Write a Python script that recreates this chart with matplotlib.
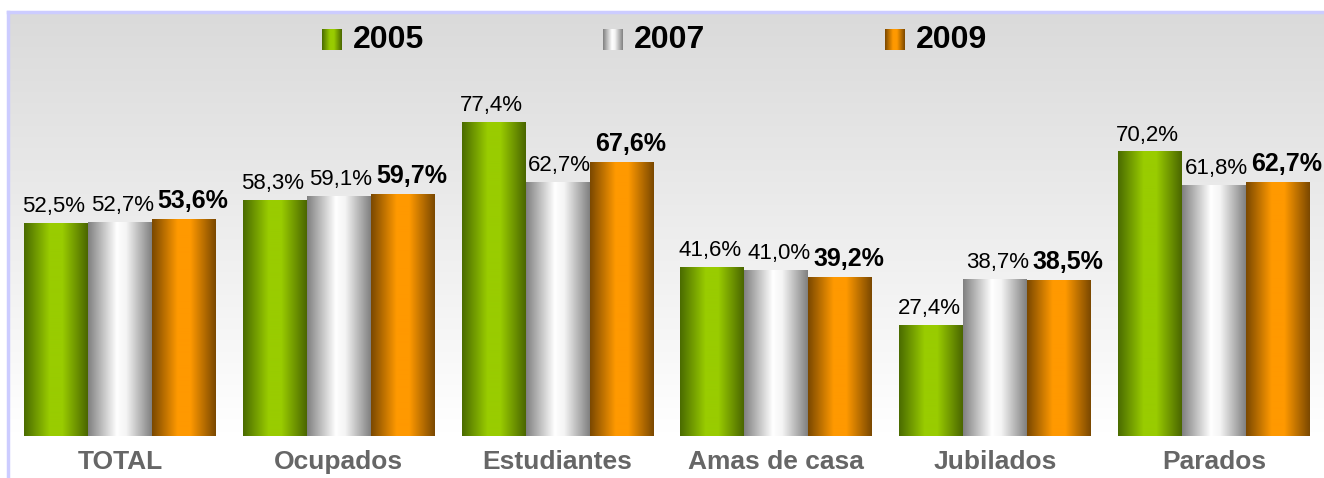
import numpy as np
import matplotlib
matplotlib.use('Agg')
import matplotlib.pyplot as plt
from matplotlib.colors import LinearSegmentedColormap

categories = ['TOTAL', 'Ocupados', 'Estudiantes', 'Amas de casa', 'Jubilados', 'Parados']
years = ['2005', '2007', '2009']
v2005 = [52.5, 58.3, 77.4, 41.6, 27.4, 70.2]
v2007 = [52.7, 59.1, 62.7, 41.0, 38.7, 61.8]
v2009 = [53.6, 59.7, 67.6, 39.2, 38.5, 62.7]

plt.rcParams['font.family'] = ['Liberation Sans', 'DejaVu Sans']

W, H = 1324, 478
fig = plt.figure(figsize=(W / 100, H / 100), dpi=100)

# horizontal "cylinder" gradients for each series
cmaps = [
    LinearSegmentedColormap.from_list('g', [(0, '#4a6b00'), (0.4, '#99cc00'), (0.6, '#99cc00'), (1, '#4a6600')]),
    LinearSegmentedColormap.from_list('w', [(0, '#808080'), (0.45, '#ffffff'), (0.6, '#f4f4f4'), (1, '#808080')]),
    LinearSegmentedColormap.from_list('o', [(0, '#7a4800'), (0.4, '#ff9900'), (0.6, '#ff9900'), (1, '#7a4800')]),
]
grad = np.linspace(0, 1, 256).reshape(1, -1)

# background panel with vertical gradient and lavender frame
bg = fig.add_axes([8 / W, 0, 1 - 8 / W, 1 - 12 / H])
bg_cmap = LinearSegmentedColormap.from_list('bg', [(0, '#dadada'), (0.9, '#ffffff'), (1, '#ffffff')])
bg.imshow(np.linspace(0, 1, 256).reshape(-1, 1), cmap=bg_cmap, aspect='auto', extent=[0, 1, 0, 1])
bg.set_xlim(0, 1)
bg.set_ylim(0, 1)
bg.set_xticks([])
bg.set_yticks([])
for s in ['right', 'bottom']:
    bg.spines[s].set_visible(False)
for s in ['top', 'left']:
    bg.spines[s].set_color('#ccccff')
    bg.spines[s].set_linewidth(2.5)

ax = fig.add_axes([8 / W, 42 / H, 1 - 8 / W, 424 / H])
ax.patch.set_alpha(0)

x = np.arange(len(categories))
bw = 0.2925
label_shift = [-0.01, 0.01, 0.04]
series = [v2005, v2007, v2009]
for i, vals in enumerate(series):
    for xi, v in zip(x, vals):
        x0 = xi + (i - 1.5) * bw
        ax.imshow(grad, cmap=cmaps[i], aspect='auto', extent=[x0, x0 + bw, 0, v], zorder=2)
        ax.text(x0 + bw / 2 + label_shift[i], v + 1.6, f'{v:.1f}%'.replace('.', ','),
                ha='center', va='bottom',
                fontsize=18 if i == 2 else 16, fontweight='bold' if i == 2 else 'normal',
                color='black', zorder=3)
ax.set_xlim(-0.512, 5.503)
ax.set_ylim(0, 104.8)

ax.set_xticks(x)
ax.set_xticklabels(categories, fontsize=19, fontweight='bold', color='#666666')
ax.tick_params(axis='x', length=0, pad=10)
ax.set_yticks([])
for s in ax.spines.values():
    s.set_visible(False)

# legend swatches + labels
leg_x = [322, 603, 885]
for i, yr in enumerate(years):
    la = fig.add_axes([leg_x[i] / W, 1 - 50 / H, 20 / W, 21 / H])
    la.imshow(grad, cmap=cmaps[i], aspect='auto')
    la.axis('off')
    fig.text((leg_x[i] + 31) / W, 1 - 40 / H, yr, fontsize=23, fontweight='bold',
             va='center', ha='left', color='black')

fig.savefig('out.png', dpi=100)
